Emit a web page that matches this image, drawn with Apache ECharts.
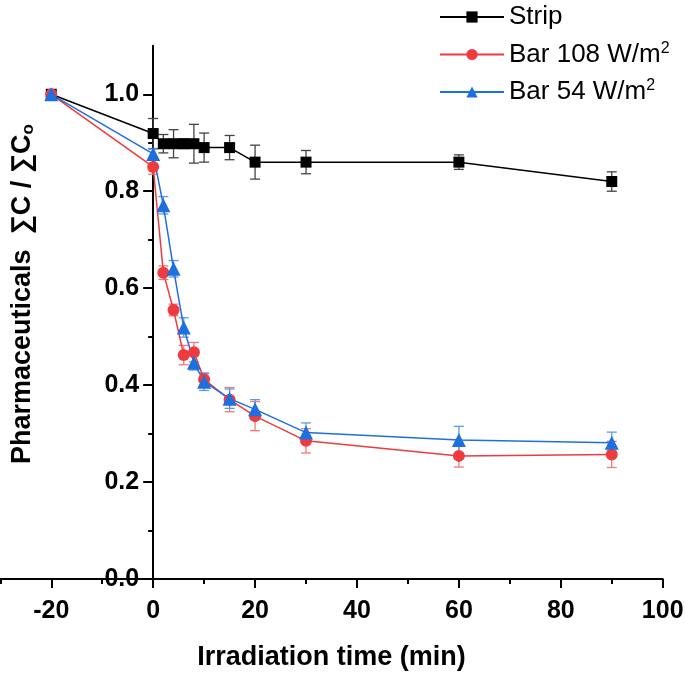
<!DOCTYPE html>
<html><head><meta charset="utf-8">
<script src="https://cdn.jsdelivr.net/npm/echarts@6/dist/echarts.min.js"></script>
<style>html,body{margin:0;padding:0;background:#fff}#c{width:685px;height:676px}</style>
</head><body><div id="c"></div>
<script>
const times = [-20, 0, 2, 4, 6, 8, 10, 15, 20, 30, 60, 90];
const stripVals = [1.0, 0.919, 0.898, 0.898, 0.898, 0.898, 0.89, 0.89, 0.86, 0.86, 0.86, 0.82];
const stripErr = [0, 0.031, 0.019, 0.029, 0.01, 0.04, 0.03, 0.025, 0.035, 0.024, 0.015, 0.02];
const bar108Vals = [1.0, 0.85, 0.632, 0.555, 0.462, 0.468, 0.412, 0.37, 0.336, 0.285, 0.254, 0.257];
const bar108Err = [0, 0.015, 0.014, 0.012, 0.02, 0.02, 0.012, 0.025, 0.03, 0.025, 0.023, 0.027];
const bar54Vals = [1.0, 0.877, 0.771, 0.64, 0.519, 0.446, 0.407, 0.372, 0.35, 0.302, 0.287, 0.281];
const bar54Err = [0, 0.01, 0.018, 0.017, 0.02, 0.015, 0.018, 0.02, 0.02, 0.02, 0.028, 0.022];
const xMajorTicks = [-20, 0, 20, 40, 60, 80, 100];
const xMinorTicks = [-30, -10, 10, 30, 50, 70, 90];
const yMajorTicks = [0, 0.2, 0.4, 0.6, 0.8, 1.0];
const yMinorTicks = [0.1, 0.3, 0.5, 0.7, 0.9];
const seriesNames = ['Strip', 'Bar 108 W/m2', 'Bar 54 W/m2'];
const xTitle = 'Irradiation time (min)';
const yTitle = 'Pharmaceuticals  \u2211C / \u2211C{sub|o}';

const X_MIN = -30, X_MAX = 100, Y_MIN = 0, Y_MAX = 1.1;
const FONT = 'Liberation Sans, Arial, sans-serif';
const W = 685;
const GRID = {left: 0.3, right: 22.3, top: 45.8, bottom: 97};
// y axis crosses the x axis at x = 0: shift it from the grid's left edge by that data position
const yAxisOffset = -((0 - X_MIN) / (X_MAX - X_MIN)) * (W - GRID.left - GRID.right);

const chart = echarts.init(document.getElementById('c'), null, {renderer: 'canvas'});

function errSeries(vals, errs, color) {
  return {
    type: 'custom',
    xAxisIndex: 0, yAxisIndex: 0,
    silent: true,
    data: times.map((t, i) => [t, vals[i], errs[i]]),
    renderItem: function (params, api) {
      const x = api.value(0), y = api.value(1), e = api.value(2);
      if (!e) return null;
      const top = api.coord([x, y + e]), bot = api.coord([x, y - e]);
      const hw = 5;
      const st = {stroke: color, lineWidth: 1.3};
      return {type: 'group', children: [
        {type: 'line', shape: {x1: top[0], y1: top[1], x2: bot[0], y2: bot[1]}, style: st},
        {type: 'line', shape: {x1: top[0] - hw, y1: top[1], x2: top[0] + hw, y2: top[1]}, style: st},
        {type: 'line', shape: {x1: bot[0] - hw, y1: bot[1], x2: bot[0] + hw, y2: bot[1]}, style: st}
      ]};
    }
  };
}
function lineSeries(name, vals, color, symbol, size) {
  return {
    type: 'line', name: name, xAxisIndex: 0, yAxisIndex: 0,
    data: times.map((t, i) => [t, vals[i]]),
    symbol: symbol, symbolSize: size, showSymbol: true,
    lineStyle: {color: color, width: 1.5},
    itemStyle: {color: color, borderWidth: 0}
  };
}

const tickStyle = {color: '#000', width: 2};
const option = {
  animation: false,
  grid: {left: GRID.left, right: GRID.right, top: GRID.top, bottom: GRID.bottom, containLabel: false, outerBoundsMode: 'none'},
  legend: {
    data: seriesNames, orient: 'vertical', left: 439, top: 3, padding: 0,
    itemWidth: 64, itemHeight: 14, itemGap: 9.5,
    textStyle: {fontSize: 26, color: '#000', fontFamily: FONT, lineHeight: 28,
      rich: {sup: {fontSize: 16, lineHeight: 16, verticalAlign: 'top', fontFamily: FONT, color: '#000'}}},
    formatter: n => n.replace(/m2$/, 'm{sup|2}')
  },
  xAxis: [{
    type: 'value', min: X_MIN, max: X_MAX, interval: 10,
    axisLine: {onZero: false, lineStyle: tickStyle},
    axisTick: {customValues: xMajorTicks, length: 9, lineStyle: tickStyle},
    axisLabel: {customValues: xMajorTicks, fontSize: 25, fontWeight: 'bold', color: '#000', fontFamily: FONT, margin: 20},
    splitLine: {show: false},
    name: xTitle, nameLocation: 'middle', nameGap: 65,
    nameTextStyle: {fontSize: 27, fontWeight: 'bold', color: '#000', fontFamily: FONT}
  }, {
    type: 'value', min: X_MIN, max: X_MAX, interval: 10, position: 'bottom',
    axisLine: {show: false, onZero: false},
    axisTick: {customValues: xMinorTicks, length: 5, lineStyle: tickStyle},
    axisLabel: {show: false}, splitLine: {show: false}
  }],
  yAxis: [{
    type: 'value', min: Y_MIN, max: Y_MAX, interval: 0.1, position: 'left', offset: yAxisOffset,
    axisLine: {show: true, onZero: false, lineStyle: tickStyle},
    axisTick: {customValues: yMajorTicks, length: 10, lineStyle: tickStyle},
    axisLabel: {customValues: yMajorTicks, formatter: v => v.toFixed(1), fontSize: 25, fontWeight: 'bold', color: '#000', fontFamily: FONT, margin: 14},
    splitLine: {show: false}
  }, {
    type: 'value', min: Y_MIN, max: Y_MAX, interval: 0.1, position: 'left', offset: yAxisOffset,
    axisLine: {show: false, onZero: false},
    axisTick: {customValues: yMinorTicks, length: 5, lineStyle: tickStyle},
    axisLabel: {show: false}, splitLine: {show: false}
  }],
  graphic: [{
    type: 'text', x: 23, y: 294, rotation: Math.PI / 2,
    style: {
      text: yTitle, fontSize: 27, fontWeight: 'bold', fontFamily: FONT, fill: '#000',
      align: 'center', verticalAlign: 'middle', lineHeight: 28,
      rich: {sub: {fontSize: 17, lineHeight: 17, padding: [15, 0, 0, 0], verticalAlign: 'bottom', fontWeight: 'bold', fontFamily: FONT, fill: '#000'}}
    }
  }],
  series: [
    errSeries(stripVals, stripErr, '#444444'),
    lineSeries(seriesNames[0], stripVals, '#000000', 'rect', 11),
    errSeries(bar108Vals, bar108Err, '#F27A7C'),
    lineSeries(seriesNames[1], bar108Vals, '#EE3B3F', 'circle', 12),
    errSeries(bar54Vals, bar54Err, '#5C9BEA'),
    lineSeries(seriesNames[2], bar54Vals, '#1E6FDF', 'triangle', 14)
  ]
};
chart.setOption(option);
</script>
</body></html>
